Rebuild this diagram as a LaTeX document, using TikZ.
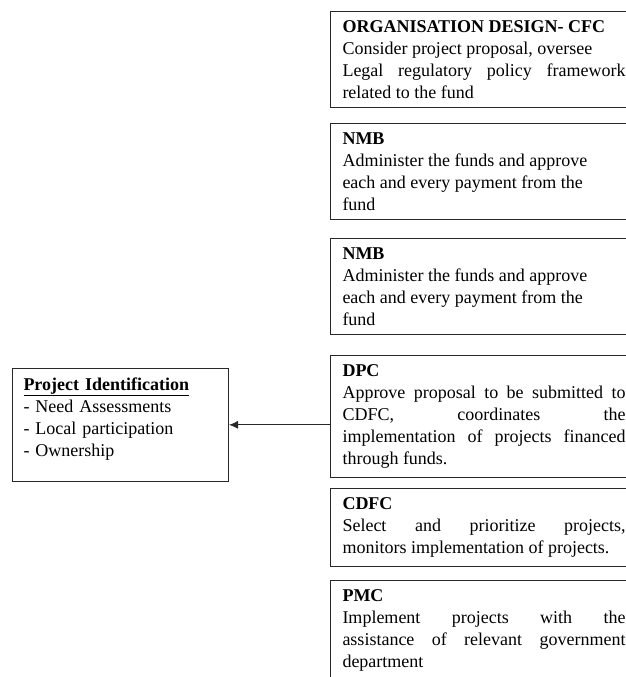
\documentclass[tikz,border=0pt]{standalone}
\usepackage{fontspec}
\setmainfont{Liberation Serif}
\usetikzlibrary{positioning,arrows.meta}
\definecolor{boxline}{RGB}{40, 40, 40}

\begin{document}
\begin{tikzpicture}[x=1pt, y=-1pt,
    stage/.style={draw=boxline, line width=1pt, anchor=north west, text width=283pt,
        inner xsep=12pt, inner ysep=9pt, align=justify, font=\fontsize{18}{22}\selectfont},
    ident/.style={draw=boxline, line width=1pt, anchor=north west, text width=194pt,
        inner xsep=11pt, inner ysep=9pt, align=left, font=\fontsize{18}{22}\selectfont}]
    \useasboundingbox (0,0) rectangle (626,677);
    \clip (0,12) rectangle (626,677);
    \node[stage] (cfc) at (330,11) {\textbf{ORGANISATION DESIGN- CFC}\\
        Consider project proposal, oversee\\
        Legal regulatory policy framework\linebreak related to the fund};
    \node[stage] (nmba) at (330,123) {\textbf{NMB}\\
        Administer the funds and approve\\ each and every payment from the\\ fund};
    \node[stage] (nmbb) at (330,238) {\textbf{NMB}\\
        Administer the funds and approve\\ each and every payment from the\\ fund};
    \node[stage] (dpc) at (330,355) {\textbf{DPC}\\
        Approve proposal to be submitted to\linebreak CDFC, coordinates the\linebreak
        implementation of projects financed\linebreak through funds.};
    \node[stage] (cdfc) at (330,488) {\textbf{CDFC}\\
        Select and prioritize projects,\linebreak monitors implementation of projects.};
    \node[stage] (pmc) at (330,580) {\textbf{PMC}\\
        Implement projects with the\linebreak assistance of relevant government\linebreak department};
    \node[ident] (pid) at (12,368) {\underline{\textbf{Project Identification}}\\
        - Need Assessments\\ - Local participation\\ - Ownership\rule[-16pt]{0pt}{16pt}};
    \draw[boxline, line width=1pt, -{Latex[length=9pt,width=8pt]}] (dpc.west |- pid.east) -- (pid.east);
\end{tikzpicture}
\end{document}
